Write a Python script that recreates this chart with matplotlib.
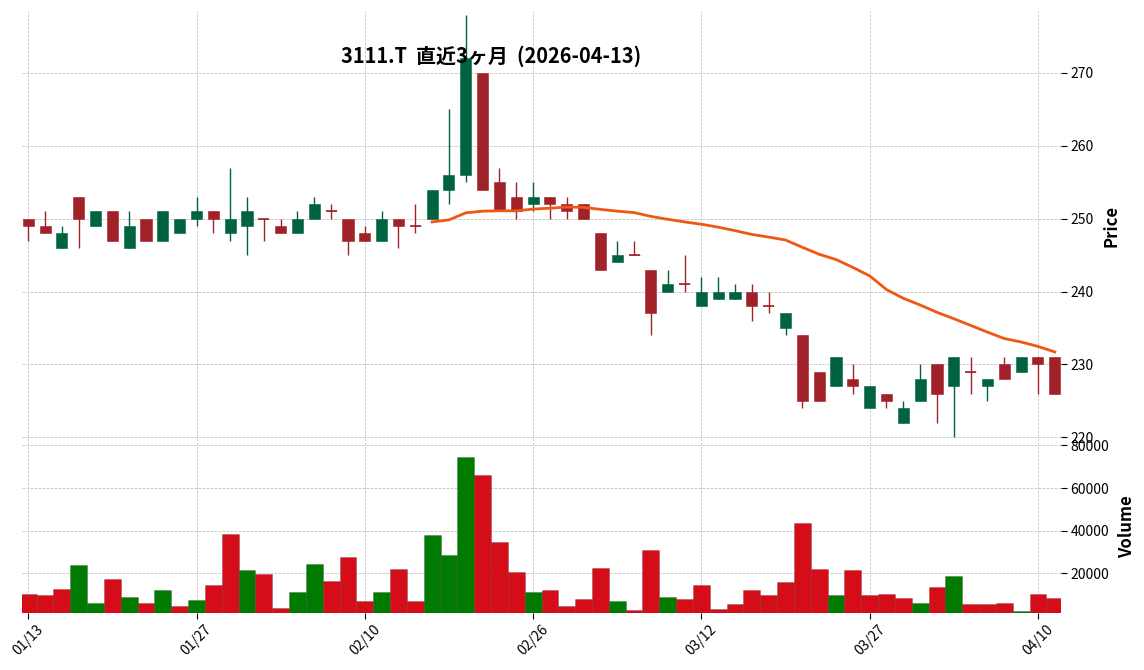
import matplotlib
matplotlib.use("Agg")
import matplotlib.pyplot as plt
import numpy as np
import pandas as pd

plt.rcParams['font.family'] = ['Noto Sans CJK JP', 'DejaVu Sans']

# ---------------- data ----------------
dates = ["01/13", "01/14", "01/15", "01/16", "01/19", "01/20", "01/21", "01/22", "01/23", "01/26",
         "01/27", "01/28", "01/29", "01/30", "02/02", "02/03", "02/04", "02/05", "02/06", "02/09",
         "02/10", "02/12", "02/13", "02/16", "02/17", "02/18", "02/19", "02/20", "02/24", "02/25",
         "02/26", "02/27", "03/02", "03/03", "03/04", "03/05", "03/06", "03/09", "03/10", "03/11",
         "03/12", "03/13", "03/16", "03/17", "03/18", "03/19", "03/23", "03/24", "03/25", "03/26",
         "03/27", "03/30", "03/31", "04/01", "04/02", "04/03", "04/06", "04/07", "04/08", "04/09",
         "04/10", "04/13"]

opens = [250, 249, 246, 253, 249, 251, 246, 250, 247, 248,
         250, 251, 248, 249, 250, 249, 248, 250, 251, 250,
         248, 247, 250, 249, 250, 254, 256, 270, 255, 253,
         252, 253, 252, 252, 248, 244, 245, 243, 240, 241,
         238, 239, 239, 240, 238, 235, 234, 229, 227, 228,
         224, 226, 222, 225, 230, 227, 229, 227, 230, 229,
         231, 231]
highs = [250, 251, 249, 253, 251, 251, 251, 250, 251, 250,
         253, 251, 257, 253, 250, 250, 251, 253, 252, 250,
         249, 251, 250, 252, 254, 265, 278, 270, 257, 255,
         255, 253, 253, 252, 248, 247, 247, 243, 243, 245,
         242, 242, 241, 241, 240, 237, 234, 229, 231, 230,
         227, 226, 225, 230, 230, 231, 231, 228, 231, 231,
         231, 231]
lows = [247, 248, 246, 246, 249, 247, 246, 247, 247, 248,
        249, 248, 247, 245, 247, 248, 248, 250, 250, 245,
        247, 247, 246, 248, 250, 252, 255, 254, 251, 250,
        251, 250, 250, 250, 243, 244, 245, 234, 240, 240,
        238, 239, 239, 236, 237, 234, 224, 225, 227, 226,
        224, 224, 222, 225, 222, 220, 226, 225, 228, 229,
        226, 226]
closes = [249, 248, 248, 250, 251, 247, 249, 247, 251, 250,
          251, 250, 250, 251, 250, 248, 250, 252, 251, 247,
          247, 250, 249, 249, 254, 256, 272, 254, 251, 251,
          253, 252, 251, 250, 243, 245, 245, 237, 241, 241,
          240, 240, 240, 238, 238, 237, 225, 225, 231, 227,
          227, 225, 224, 228, 226, 231, 229, 228, 228, 231,
          230, 226]
volumes = [10300, 9800, 12600, 23900, 6100, 17300, 8900, 6100, 12200, 4700,
           7500, 14500, 38500, 21600, 19700, 3700, 11200, 24400, 16400, 27700,
           7000, 11200, 22000, 7000, 38000, 28600, 74600, 66200, 34700, 20600,
           11200, 12200, 4700, 7900, 22500, 7000, 2800, 31000, 8900, 7900,
           14500, 3200, 5600, 12200, 9800, 15900, 43600, 22000, 9800, 21600,
           9800, 10300, 8400, 6100, 13600, 18800, 5600, 5600, 6100, 2300,
           10300, 8400]

title = "3111.T  直近3ヶ月  (2026-04-13)"
tick_every = 10
mav_window = 25

# ---------------- styling ----------------
UP_C = "#006340"
DN_C = "#a02128"
VUP_C = "#007a00"
VDN_C = "#d50d18"
MA_C = "#ef5714"
GRID_C = "#c4c4c4"
GRID_LS = (0, (3.2, 1.6))

df = pd.DataFrame({"Open": opens, "High": highs, "Low": lows,
                   "Close": closes, "Volume": volumes})
x = np.arange(len(df))
mav = df["Close"].rolling(mav_window).mean()

W, H = 1144, 670
fig = plt.figure(figsize=(W / 100, H / 100), dpi=100)
left, right = 22 / W, 1061 / W
ax = fig.add_axes([left, 1 - 441 / H, right - left, (441 - 11) / H])
axv = fig.add_axes([left, 1 - 612.7 / H, right - left, (612.7 - 441) / H], sharex=ax)

up = df["Close"] > df["Open"]
ccol = np.where(up, UP_C, DN_C)

# wicks
ax.vlines(x, df["Low"], df["High"], colors=ccol, linewidth=1.0, zorder=2)
# bodies
body_w = 0.66
bottoms = np.minimum(df["Open"], df["Close"])
heights = (df["Close"] - df["Open"]).abs()
ax.bar(x, heights, width=body_w, bottom=bottoms, color=ccol,
       edgecolor=ccol, linewidth=0.4, zorder=3)
doji = heights == 0
ax.hlines(df["Close"][doji], x[doji] - body_w / 2, x[doji] + body_w / 2,
          colors=ccol[doji], linewidth=1.2, zorder=3)

ax.plot(x, mav, color=MA_C, linewidth=2.0, zorder=4)

# volume colours from close vs previous close
prev = df["Close"].shift(1)
vup = df["Close"] > prev
vcol = np.where(vup, VUP_C, VDN_C)
axv.bar(x, df["Volume"], width=1.0, color=vcol, edgecolor=(0, 0, 0, 0.25),
        linewidth=0.5, zorder=3)

# axes limits
ax.set_xlim(-0.37, len(df) - 1 + 0.37)
ax.set_ylim(219.5, 278.5)
axv.set_ylim(1520, 82100)

for a in (ax, axv):
    for s in a.spines.values():
        s.set_visible(False)
    a.grid(True, color=GRID_C, linestyle=GRID_LS, linewidth=0.6, zorder=0)
    a.set_axisbelow(True)
    a.yaxis.tick_right()
    a.yaxis.set_label_position("right")
    a.tick_params(axis="y", which="both", direction="out", length=4, width=0.8,
                  labelsize=10, pad=3, left=False, right=True, colors="black")

ax.set_yticks([220, 230, 240, 250, 260, 270])
axv.set_yticks([20000, 40000, 60000, 80000])

ticks = list(range(0, len(df), tick_every))
axv.set_xticks(ticks)
axv.set_xticklabels([dates[i] for i in ticks], rotation=45, ha="center")
axv.tick_params(axis="x", direction="out", length=4, width=0.8, labelsize=10, pad=3)
ax.tick_params(axis="x", bottom=False, labelbottom=False)

ax.set_ylabel("Price", fontsize=12, fontweight="bold", labelpad=6)
axv.set_ylabel("Volume", fontsize=12, fontweight="bold", labelpad=6)

fig.text(491 / W, 1 - 56 / H, title, ha="center", va="center",
         fontsize=14.4, fontweight="bold")

fig.savefig("out.png", dpi=100)
